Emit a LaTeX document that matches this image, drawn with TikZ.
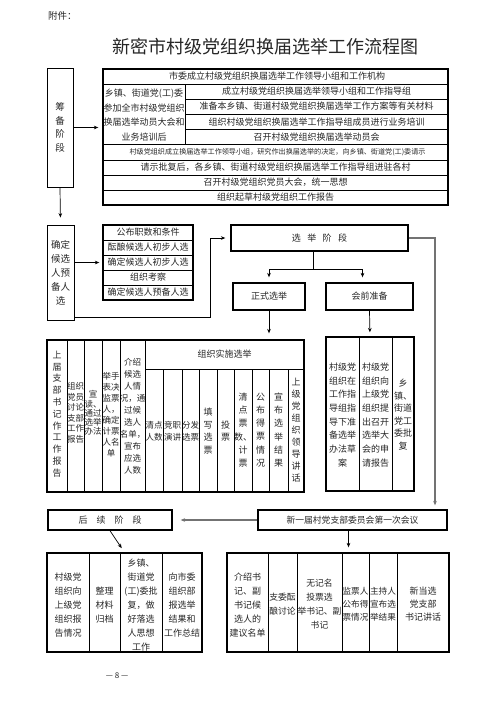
\documentclass[tikz,border=0pt]{standalone}
\usepackage{fontspec}
\newfontfamily\cjk{Noto Sans CJK SC}
\usetikzlibrary{arrows.meta}
\begin{document}
\begin{tikzpicture}[x=1pt,y=-1pt,
  lbs/.style 2 args={font=\cjk\fontsize{#1}{#2}\selectfont, align=center, inner sep=0pt, text=black!85},
  stagebox/.style={draw, line width=1.3pt, inner sep=0pt},
  sidebox/.style={draw, line width=0.9pt, inner sep=0pt},
  gridline/.style={line width=0.6pt},
  arr/.style={-{Stealth[length=4.5pt,width=3.6pt]}, line width=0.7pt},
  garr/.style={-{Stealth[length=4.5pt,width=3.6pt]}, line width=1.2pt, draw=black!55},
]
\useasboundingbox (0,0) rectangle (496,702);

% title
\node[lbs={9.5}{11}, anchor=west] (att) at (48,16) {附件：};
\node[lbs={18}{20}] (title) at (265.5,47) {新密市村级党组织换届选举工作流程图};

% ---------- preparation stage ----------
\node[sidebox, minimum width=26pt, minimum height=119pt, lbs={9.5}{13.5}] (prep) at (60,127.5) {筹\\备\\阶\\段};
\node[stagebox, minimum width=345pt, minimum height=136pt] (ptab) at (275.5,137) {};
\draw[gridline] (103,84) -- (448,84);
\draw[gridline] (103,144.5) -- (448,144.5);
\foreach \yy in {99,114,129.5} \draw[gridline] (185,\yy) -- (448,\yy);
\foreach \yy in {160,175,190} \draw[gridline] (103,\yy) -- (448,\yy);
\draw[gridline] (185,84) -- (185,144.5);
\node[lbs={9}{11}] (p1) at (277,76.5) {市委成立村级党组织换届选举工作领导小组和工作机构};
\node[lbs={9}{14.7}] (pl) at (144,115) {乡镇、街道党(工)委\\参加全市村级党组织\\换届选举动员大会和\\业务培训后};
\node[lbs={9}{11}] (p2) at (316.5,91.5) {成立村级党组织换届选举领导小组和工作指导组};
\node[lbs={9}{11}] (p3) at (316.5,106.5) {准备本乡镇、街道村级党组织换届选举工作方案等有关材料};
\node[lbs={9}{11}] (p4) at (316.5,121.7) {组织村级党组织换届选举工作指导组成员进行业务培训};
\node[lbs={9}{11}] (p5) at (316.5,137) {召开村级党组织换届选举动员会};
\node[lbs={7.1}{9}] (p6) at (277.5,152.2) {村级党组织成立换届选举工作领导小组，研究作出换届选举的决定，向乡镇、街道党(工)委请示};
\node[lbs={9}{11}] (p7) at (275.5,167.5) {请示批复后，各乡镇、街道村级党组织换届选举工作指导组进驻各村};
\node[lbs={9}{11}] (p8) at (275.5,182.5) {召开村级党组织党员大会，统一思想};
\node[lbs={9}{11}] (p9) at (275.5,197.5) {组织起草村级党组织工作报告};

% ---------- candidate stage ----------
\node[sidebox, minimum width=27pt, minimum height=95pt, lbs={9.5}{14}] (cand) at (60.5,272.5) {确定\\候选\\人预\\备人\\选};
\node[stagebox, minimum width=90pt, minimum height=75pt] (list) at (148,262.5) {};
\foreach \yy in {240,255,270,285} \draw[gridline] (103,\yy) -- (193,\yy);
\node[lbs={9}{11}] (l1) at (148,232.5) {公布职数和条件};
\node[lbs={9}{11}] (l2) at (148,247.5) {酝酿候选人初步人选};
\node[lbs={9}{11}] (l3) at (148,262.5) {确定候选人初步人选};
\node[lbs={9}{11}] (l4) at (148,277.5) {组织考察};
\node[lbs={9}{11}] (l5) at (148,292.5) {确定候选人预备人选};

% ---------- election stage ----------
\node[stagebox, minimum width=177pt, minimum height=26pt, lbs={9}{11}] (elect) at (319.5,238) {选\hspace{6.5pt}举\hspace{6.5pt}阶\hspace{6.5pt}段};
\node[stagebox, minimum width=72pt, minimum height=27pt, lbs={9}{11}] (formal) at (269,296.5) {正式选举};
\node[stagebox, minimum width=87pt, minimum height=27pt, lbs={9}{11}] (mprep) at (369.5,296.5) {会前准备};

% formal election table
\node[stagebox, minimum width=257pt, minimum height=152pt] (etab) at (175.5,416) {};
\foreach \xx in {67,84,102,120,145} \draw[gridline] (\xx,340) -- (\xx,492);
\draw[gridline] (145,369) -- (304,369);
\foreach \xx in {163,182,199,217,234,252,269,288} \draw[gridline] (\xx,369) -- (\xx,492);
\node[lbs={9}{11.8}] (e1) at (57,414) {上\\届\\支\\部\\书\\记\\作\\工\\作\\报\\告};
\node[lbs={8.5}{10.5}] (e2) at (75.5,413) {组织\\党员\\讨论\\支部\\工作\\报告};
\node[lbs={8.5}{9.2}] (e3) at (93,413) {宣\\读、\\通过\\选举\\办法};
\node[lbs={8.5}{11}] (e4) at (111,415) {举手\\表决\\监票\\人，\\确定\\计票\\人名\\单};
\node[lbs={8.5}{12}] (e5) at (132.5,416) {介绍\\候选\\人情\\况，通\\过候\\选人\\名单，\\宣布\\应选\\人数};
\node[lbs={9}{11}] (eh) at (224.5,354.5) {组织实施选举};
\node[lbs={8.5}{12}] (s1) at (154,431) {清点\\人数};
\node[lbs={8.5}{12}] (s2) at (172.5,431) {竞职\\演讲};
\node[lbs={8.5}{12}] (s3) at (190.5,431) {分发\\选票};
\node[lbs={9}{12.7}] (s4) at (208,431) {填\\写\\选\\票};
\node[lbs={9}{12}] (s5) at (225.5,431) {投\\票};
\node[lbs={9}{13.3}] (s6) at (243,430) {清\\点\\票\\数、\\计\\票};
\node[lbs={9}{13.3}] (s7) at (260.5,430) {公\\布\\得\\票\\情\\况};
\node[lbs={9}{13.3}] (s8) at (278.5,430) {宣\\布\\选\\举\\结\\果};
\node[lbs={9}{12}] (s9) at (296,430) {上\\级\\党\\组\\织\\领\\导\\讲\\话};

% meeting preparation table
\node[stagebox, minimum width=88pt, minimum height=154pt] (mtab) at (370,414) {};
\foreach \xx in {359,392} \draw[gridline] (\xx,337) -- (\xx,491);
\node[lbs={9}{13.7}] (m1) at (342.5,415) {村级党\\组织在\\工作指\\导组指\\导下准\\备选举\\办法草\\案};
\node[lbs={9}{13.7}] (m2) at (375.5,415) {村级党\\组织向\\上级党\\组织提\\出召开\\选举大\\会的申\\请报告};
\node[lbs={9}{12.5}] (m3) at (403,414.5) {乡\\镇、\\街道\\党工\\委批\\复};

% ---------- follow-up stage ----------
\node[stagebox, minimum width=124pt, minimum height=20pt, lbs={9}{11}] (follow) at (110,520) {后\hspace{9pt}续\hspace{9pt}阶\hspace{9pt}段};
\node[stagebox, minimum width=189pt, minimum height=20pt, lbs={8.8}{11}] (newm) at (352.5,520) {新一届村党支部委员会第一次会议};

\node[stagebox, minimum width=155pt, minimum height=99pt] (ftab) at (124.5,602.5) {};
\foreach \xx in {89,120,162} \draw[gridline] (\xx,553) -- (\xx,652);
\node[lbs={9}{14}] (f1) at (68,605) {村级党\\组织向\\上级党\\组织报\\告情况};
\node[lbs={9}{14}] (f2) at (104.5,605) {整理\\材料\\归档};
\node[lbs={9}{14}] (f3) at (141,605) {乡镇、\\街道党\\(工)委批\\复，做\\好落选\\人思想\\工作};
\node[lbs={9}{14}] (f4) at (182,605) {向市委\\组织部\\报选举\\结果和\\工作总结};

\node[stagebox, minimum width=222pt, minimum height=99pt] (ntab) at (338,602.5) {};
\foreach \xx in {268,297,342,369,397} \draw[gridline] (\xx,553) -- (\xx,652);
\node[lbs={9}{14}] (n1) at (247.5,605) {介绍书\\记、副\\书记候\\选人的\\建议名单};
\node[lbs={8.8}{14}] (n2) at (282.5,604) {支委酝\\酿讨论};
\node[lbs={8.8}{14}] (n3) at (319.5,604) {无记名\\投票选\\举书记、副\\书记};
\node[lbs={8.6}{13}] (n4) at (355.5,604) {监票人\\公布得\\票情况};
\node[lbs={8.6}{13}] (n5) at (383,604) {主持人\\宣布选\\举结果};
\node[lbs={9}{13}] (n6) at (423,604) {新当选\\党支部\\书记讲话};

\node[lbs={8}{10}] (pg) at (117,676) {— 8 —};

% ---------- connectors ----------
\draw[arr, shorten >=4pt] (prep.east) -- (prep.east -| ptab.west);
\draw[arr, shorten >=7pt] (prep.south) -- (cand.north);
\draw[arr, shorten >=3pt] (cand.east |- list.west) -- (list.west);
\coordinate (k1) at (210,317);
\draw[arr, shorten >=5pt] (cand.east |- k1) -- (k1) |- (elect.west);
\coordinate (k2) at (435,238);
\draw[garr, shorten >=4pt] (elect.east) -- (k2) -- (k2 |- newm.north);
\coordinate (k3) at (313,269);
\draw[line width=0.7pt] (k3 |- elect.south) -- (k3);
\draw[arr, shorten >=5pt] (k3) -| (formal.north);
\draw[arr, shorten >=5pt] (k3) -| ([xshift=-7pt]mprep.north);
\draw[arr, shorten >=6pt] (formal.south) -- (formal.south |- etab.north);
\draw[arr, shorten >=4pt] (mprep.south) -- (mtab.north);
\draw[garr, shorten >=8pt] (newm.west) -- (follow.east);
\draw[arr, shorten >=5pt] (follow.south) -- (ftab.north);
\draw[arr, shorten >=5pt] ([xshift=-4pt]newm.south) -- ([xshift=-4pt]newm.south |- ntab.north);
\end{tikzpicture}
\end{document}
